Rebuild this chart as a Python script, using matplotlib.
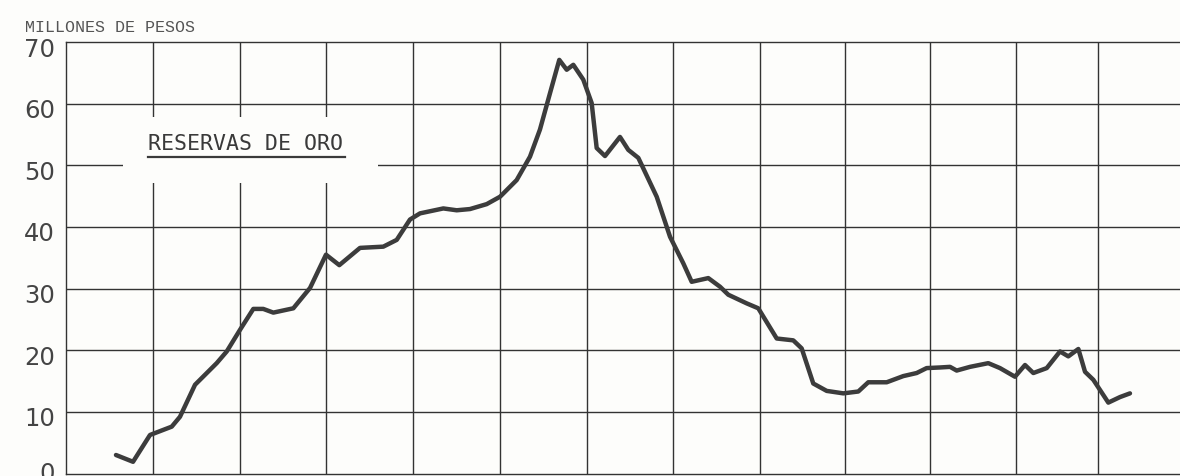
import matplotlib
matplotlib.use("Agg")
import matplotlib.pyplot as plt
import matplotlib.transforms as mtransforms
from matplotlib.patches import Rectangle

# Data (x in years from chart origin, y in millones de pesos)
x_years = [0.577, 0.774, 0.970, 1.221, 1.316, 1.490, 1.740, 1.856, 2.009, 2.163,
           2.278, 2.394, 2.625, 2.818, 3.002, 3.156, 3.395, 3.664, 3.819, 3.972,
           4.088, 4.357, 4.512, 4.665, 4.858, 5.012, 5.204, 5.358, 5.473, 5.589,
           5.696, 5.782, 5.858, 5.973, 6.070, 6.128, 6.224, 6.397, 6.493, 6.609,
           6.821, 6.975, 7.128, 7.225, 7.417, 7.552, 7.648, 7.860, 7.994, 8.207,
           8.398, 8.495, 8.629, 8.784, 8.976, 9.149, 9.264, 9.477, 9.668, 9.823,
           9.938, 10.092, 10.208, 10.285, 10.439, 10.650, 10.785, 10.958, 11.074, 11.170,
           11.325, 11.478, 11.574, 11.690, 11.767, 11.863, 12.036, 12.171, 12.286]
reservas = [3.0, 1.9, 6.25, 7.6, 9.2, 14.4, 17.9, 19.8, 23.3, 26.7,
            26.7, 26.1, 26.8, 30.1, 35.5, 33.8, 36.6, 36.8, 37.9, 41.2,
            42.2, 43.0, 42.7, 42.9, 43.7, 44.9, 47.6, 51.4, 55.8, 61.7,
            67.1, 65.5, 66.3, 63.9, 60.1, 52.8, 51.5, 54.6, 52.5, 51.2,
            44.9, 38.4, 34.1, 31.1, 31.7, 30.3, 29.0, 27.6, 26.8, 21.9,
            21.6, 20.3, 14.6, 13.4, 13.0, 13.3, 14.8, 14.8, 15.8, 16.3,
            17.1, 17.2, 17.3, 16.7, 17.3, 17.9, 17.1, 15.7, 17.6, 16.3,
            17.1, 19.8, 19.0, 20.2, 16.5, 15.2, 11.5, 12.4, 13.0]
y_ticks = [0, 10, 20, 30, 40, 50, 60, 70]
y_labels = ["0", "10", "20", "30", "40", "50", "60", "70"]
x_grid = [1.005, 2.009, 3.002, 4.007, 5.012, 6.016, 7.009, 8.014, 8.995, 9.977, 10.97, 11.92]
title_text = "RESERVAS DE ORO"
unit_text = "MILLONES DE PESOS"

bg = "#fdfdfb"
ink = "#333333"

fig = plt.figure(figsize=(11.8, 4.76), dpi=100, facecolor=bg)
W, H = 1180, 476
left, right, top, bottom = 66, 1180, 42, 473.5
ax = fig.add_axes([left / W, 1 - bottom / H, (right - left) / W, (bottom - top) / H])
ax.set_facecolor(bg)
ax.set_xlim(0, (right - left) / 86.6)
ax.set_ylim(0, 70)

# grid
for yv in y_ticks[1:-1]:
    ax.axhline(yv, color=ink, lw=1.0, zorder=1)
for xv in x_grid:
    ax.axvline(xv, color=ink, lw=1.0, zorder=1)

ax.spines["right"].set_visible(False)
for s in ["left", "top", "bottom"]:
    ax.spines[s].set_color(ink)
    ax.spines[s].set_linewidth(1.0)

# white label box blanking grid
ax.add_patch(Rectangle((0.658, 47.2), 3.603 - 0.658, 57.9 - 47.2,
                       facecolor=bg, edgecolor="none", zorder=2))
ax.text(2.075, 53.4, title_text, ha="center", va="center", fontsize=15.5,
        family="DejaVu Sans Mono", color="#3a3a3a", zorder=4)
ax.plot([0.947, 3.22], [51.4, 51.4], color="#3a3a3a", lw=1.6, zorder=4)

# data line
ax.plot(x_years, reservas, color="#3c3c3c", lw=3.2, solid_joinstyle="round",
        solid_capstyle="round", zorder=3)

ax.set_xticks([])
ax.set_yticks(y_ticks)
ax.set_yticklabels(y_labels, fontsize=17.5, color="#444444", family="DejaVu Sans")
ax.tick_params(axis="y", length=0, pad=8)
for lab in ax.get_yticklabels():
    dy = 2 if lab.get_text() == "0" else -5
    offset = mtransforms.ScaledTranslation(0, dy / 100, fig.dpi_scale_trans)
    lab.set_transform(lab.get_transform() + offset)

fig.text(25 / W, 1 - 28 / H, unit_text, ha="left", va="center", fontsize=12,
         family="Liberation Mono", color="#555555")

fig.savefig("out.png", dpi=100, facecolor=bg)
